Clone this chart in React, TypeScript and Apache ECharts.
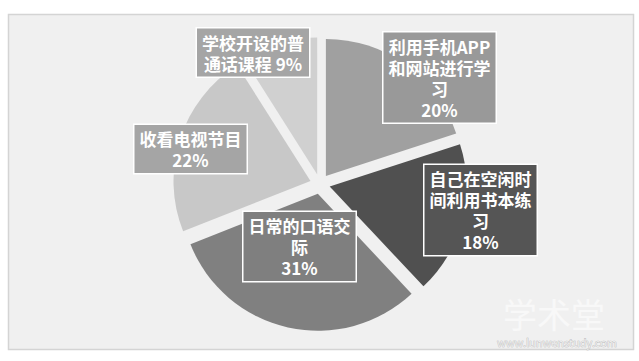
import React, { useEffect, useRef } from "react";
import * as echarts from "echarts";

const categories = [
  "利用手机APP和网站进行学习",
  "自己在空闲时间利用书本练习",
  "日常的口语交际",
  "收看电视节目",
  "学校开设的普通话课程",
];
const values = [20, 18, 31, 22, 9];
const labelLines = [
  ["利用手机APP", "和网站进行学", "习"],
  ["自己在空闲时", "间利用书本练", "习"],
  ["日常的口语交", "际"],
  ["收看电视节目"],
  ["学校开设的普", "通话课程"],
];
const percentInline = [false, false, false, false, true];
const sliceColors = ["#a0a0a0", "#505050", "#808080", "#c8c8c8", "#d0d0d0"];
const labelColors = ["#999999", "#555555", "#7f7f7f", "#a5a5a5", "#a5a5a5"];
const labelCenters = [
  [439.5, 77.5],
  [480.5, 210],
  [299.5, 246.5],
  [190.5, 149],
  [253, 52.5],
];

const FONT = '"Noto Sans CJK SC", "Noto Sans", sans-serif';

export default function App() {
  const ref = useRef<HTMLDivElement>(null);
  useEffect(() => {
    if (!ref.current) return;
    const chart = echarts.init(ref.current, undefined, { renderer: "svg" });
    const sliceData = categories.map((name, i) => ({
      name,
      value: values[i],
      selected: true,
      itemStyle: { color: sliceColors[i] },
    }));
    const labelData = categories.map((name, i) => ({
      name,
      value: values[i],
      itemStyle: { color: "rgba(0,0,0,0)" },
      label: { backgroundColor: labelColors[i] },
    }));
    chart.setOption({
      animation: false,
      backgroundColor: "#ffffff",
      graphic: [
        {
          type: "rect",
          z: 0,
          shape: { x: 8.5, y: 14.5, width: 625, height: 335 },
          style: { fill: "#f0f0f0", stroke: "#d4d4d4", lineWidth: 1.5 },
        },
        {
          type: "text",
          z: 100,
          x: 554,
          y: 313,
          style: {
            text: "学术堂",
            font: `34px ${FONT}`,
            fill: "#f8f8f8",
            align: "center",
            verticalAlign: "middle",
            shadowColor: "rgba(0,0,0,0.5)",
            shadowBlur: 3,
            shadowOffsetX: 1,
            shadowOffsetY: 1,
          },
        },
        {
          type: "text",
          z: 100,
          x: 557,
          y: 342,
          style: {
            text: "www.lunwenstudy.com",
            font: `11px ${FONT}`,
            fill: "#ededed",
            align: "center",
            verticalAlign: "middle",
            stroke: "#b0b0b0",
            lineWidth: 0.6,
          },
        },
      ],
      series: [
        {
          type: "pie",
          z: 2,
          center: [320, 184],
          radius: [0, 137],
          startAngle: 90,
          clockwise: true,
          selectedMode: "multiple",
          selectedOffset: 10,
          avoidLabelOverlap: false,
          emphasis: { disabled: true },
          itemStyle: { borderWidth: 0 },
          labelLine: { show: false },
          label: { show: false },
          data: sliceData,
        },
        {
          type: "pie",
          z: 3,
          silent: true,
          center: [320, 184],
          radius: [0, 137],
          startAngle: 90,
          clockwise: true,
          selectedMode: false,
          avoidLabelOverlap: false,
          emphasis: { disabled: true },
          itemStyle: { borderWidth: 0 },
          labelLine: { show: false },
          label: {
            show: true,
            position: "inside",
            color: "#ffffff",
            fontFamily: FONT,
            fontSize: 17,
            fontWeight: "bold",
            lineHeight: 21,
            width: 112,
            align: "center",
            padding: [3, 0],
            borderColor: "#ffffff",
            borderWidth: 1.5,
            formatter: (p: any) => {
              const i = p.dataIndex;
              const pct = Math.round(p.percent) + "%";
              const lines = labelLines[i].slice();
              if (percentInline[i]) {
                lines[lines.length - 1] = lines[lines.length - 1] + " " + pct;
              } else {
                lines.push(pct);
              }
              return lines.join("\n");
            },
          },
          labelLayout: (p: any) => ({
            x: labelCenters[p.dataIndex][0],
            y: labelCenters[p.dataIndex][1],
            align: "center",
            verticalAlign: "middle",
            hideOverlap: false,
          }),
          data: labelData,
        },
      ],
    });
    return () => chart.dispose();
  }, []);
  return (
    <div
      ref={ref}
      style={{ position: "fixed", left: 0, top: 0, width: 639, height: 361 }}
    />
  );
}
